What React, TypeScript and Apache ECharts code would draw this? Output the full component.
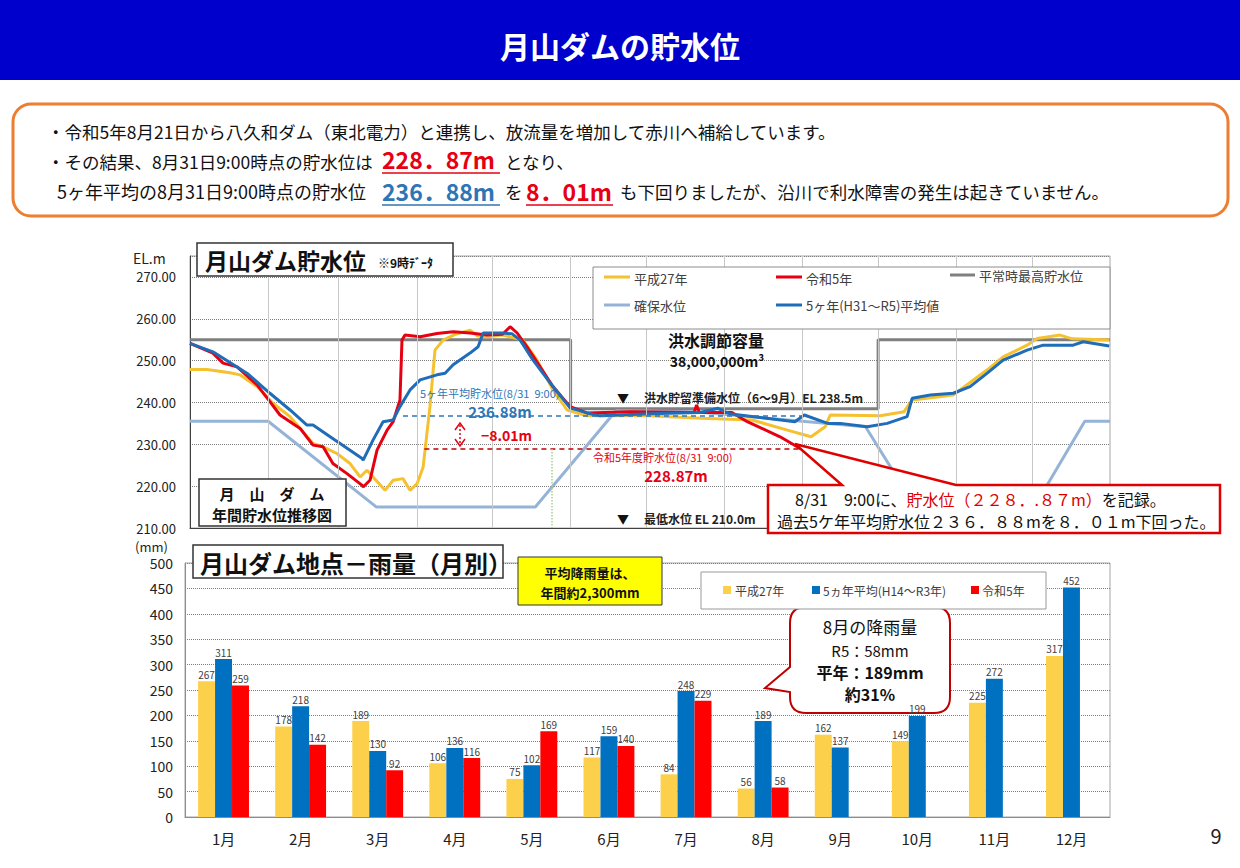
import React, { useEffect, useRef } from 'react';
import * as echarts from 'echarts';

const JP = '"Noto Sans CJK JP", "Noto Sans", sans-serif';

// ---- Reservoir level (day of year, EL m) ----
const h27Level: [number, number][] = [
  [0, 247.9], [6.7, 247.9], [15.9, 247.1], [19.8, 246.6], [26.6, 243.8], [32.9, 239.8], [39.7, 236.6],
  [48.8, 230.2], [52.8, 229.4], [58.3, 227.8], [63.5, 225.4], [67.5, 222.2], [70.2, 223.8], [72.6, 222.2],
  [77.4, 219.0], [80.6, 221.4], [84.5, 221.8], [87.3, 219.0], [90.1, 220.6], [92.5, 224.6], [95.2, 239.0],
  [97.2, 252.5], [100.4, 254.9], [105, 256.2], [111.1, 257.3], [114, 255.9], [117.9, 255.7], [124.2, 256.1],
  [132.1, 254.9], [137.7, 250.1], [144, 243.0], [149.6, 238.2], [157.5, 236.8], [180, 236.9], [202.7, 236.2],
  [223, 235.8], [237, 233.4], [246.4, 231.8], [252, 234.2], [254, 237.0], [273.8, 236.8], [283.3, 237.8],
  [286.5, 240.6], [302.8, 241.8], [316.3, 247.8], [322.6, 250.9], [332.1, 253.7], [336.1, 255.3],
  [345.2, 256.1], [350, 255.2], [364.7, 254.9],
];
const r5Level: [number, number][] = [
  [0, 254.1], [9.1, 251.8], [13.1, 249.4], [18.7, 248.5], [26.6, 244.2], [31.7, 240.2], [35.7, 237.0],
  [43.7, 233.8], [48.8, 229.8], [52.8, 229.4], [56.7, 225.4], [62.3, 223.0], [68.3, 220.2], [68.7, 219.8],
  [71.4, 221.4], [74.2, 228.6], [78.2, 233.4], [80.6, 235.4], [83.3, 240.6], [84.1, 254.9], [85.3, 256.1],
  [91.3, 255.7], [98.0, 256.5], [104.4, 256.9], [111.1, 256.6], [117.9, 256.1], [124, 256.3], [127, 258.1],
  [129.8, 256.6], [133.7, 253.3], [138.9, 248.5], [144, 243.8], [150.8, 239.0], [157.5, 237.5], [175, 237.8],
  [200, 237.6], [201, 239.4], [202, 237.6], [215, 237.6], [221.1, 235.4], [234.1, 231.8], [240.9, 229.4],
  [242.4, 228.87],
];
const avgLevel: [number, number][] = [
  [0, 254.1], [9.1, 252.1], [22.6, 247.0], [31.7, 242.2], [39.7, 238.2], [46.4, 234.6], [48.8, 234.6],
  [55.6, 231.8], [68.3, 226.6], [68.7, 226.2], [72.6, 231.0], [76.6, 235.4], [80.6, 235.8], [83.3, 239.0],
  [87.3, 243.0], [91.3, 245.4], [98.0, 246.6], [101.2, 247.0], [104.4, 249.0], [111.1, 251.8], [114.3, 253.3],
  [116.3, 256.6], [124.2, 256.6], [127.8, 256.4], [131, 254.9], [136.1, 250.1], [144, 243.8], [150.8, 238.7],
  [157.5, 237.5], [162.7, 236.8], [182.5, 237.3], [202.4, 237.6], [209.5, 238.6], [214, 237.3], [240, 235.4],
  [243.7, 237.0], [253, 235.0], [258, 235.0], [268.7, 234.2], [276.6, 235.0], [284.5, 236.6], [286.5, 241.0],
  [293.7, 241.8], [302.8, 242.2], [309.5, 243.8], [316.3, 247.0], [322.6, 250.1], [332.1, 252.5],
  [338.5, 253.7], [350.4, 253.7], [354.4, 254.5], [364.7, 253.5],
];
const securedLevel: [number, number][] = [
  [0, 235.5], [31, 235.5], [74, 215], [137, 215], [169, 238], [200, 237.8], [268, 234.2], [293, 210],
  [330, 210], [355, 235.5], [365, 235.5],
];
const normalMaxLevel: [number, number][] = [
  [0, 255], [151, 255], [151, 238.5], [273, 238.5], [273, 255], [365, 255],
];
const monthStartDays = [31, 59, 90, 120, 151, 181, 212, 243, 273, 304, 334];
const avgAug31 = 236.88;
const r5Aug31 = 228.87;
const aug31Day = 242.4;

// ---- Monthly rainfall (mm) ----
const months = ['1月', '2月', '3月', '4月', '5月', '6月', '7月', '8月', '9月', '10月', '11月', '12月'];
const rainH27 = [267, 178, 189, 106, 75, 117, 84, 56, 162, 149, 225, 317];
const rainAvg = [311, 218, 130, 136, 102, 159, 248, 189, 137, 199, 272, 452];
const rainR5 = [259, 142, 92, 116, 169, 140, 229, 58, null, null, null, null];

const C_YEL = '#F5C12E';
const C_RED = '#E60012';
const C_BLUE = '#1F6DB8';
const C_LBLUE = '#95B3D7';
const C_GRAY = '#7F7F7F';
const B_YEL = '#FCD04A';
const B_BLUE = '#0070C0';
const B_RED = '#FF0000';

echarts.graphic.registerShape(
  'calloutTop',
  echarts.graphic.extendPath('M768 485 L842 485 L795 444 L956 485 L1220 485 L1220 533 L768 533 Z', {})
);
echarts.graphic.registerShape(
  'calloutBubble',
  echarts.graphic.extendPath(
    'M806 607 L934 607 Q950 607 950 623 L950 697 Q950 713 934 713 L806 713 Q790 713 790 697 L790 692 L765 688 L790 667 L790 623 Q790 607 806 607 Z',
    {}
  )
);

function txt(x: number, y: number, text: string, o: any = {}) {
  return {
    type: 'text',
    x,
    y,
    style: {
      text,
      fill: o.fill || '#111',
      fontSize: o.size || 14,
      fontWeight: o.weight || 'normal',
      fontFamily: JP,
      textAlign: o.align || 'left',
      textVerticalAlign: 'middle',
      lineHeight: o.lh,
    },
  };
}
function line(x1: number, y1: number, x2: number, y2: number, stroke: string, w = 3, dash?: any) {
  return { type: 'line', shape: { x1, y1, x2, y2 }, style: { stroke, lineWidth: w, lineDash: dash } };
}
function rect(x: number, y: number, w: number, h: number, fill: string, stroke: string, lw = 1, r = 0) {
  return { type: 'rect', shape: { x, y, width: w, height: h, r }, style: { fill, stroke, lineWidth: lw } };
}

export default function App() {
  const ref = useRef<HTMLDivElement>(null);
  useEffect(() => {
    if (!ref.current) return;
    const chart = echarts.init(ref.current, undefined, { renderer: 'svg' });

    const graphics: any[] = [
      // banner
      rect(0, 0, 1240, 80, '#0000CC', '#0000CC', 0),
      txt(620, 45, '月山ダムの貯水位', { size: 30, weight: 'bold', fill: '#ffffff', align: 'center' }),
      // summary box
      rect(13, 104, 1215, 112, '#ffffff', '#ED7D31', 3, 18),
      txt(47, 131, '・令和5年8月21日から八久和ダム（東北電力）と連携し、放流量を増加して赤川へ補給しています。', { size: 17.5 }),
      txt(47, 161, '・その結果、8月31日9:00時点の貯水位は', { size: 17.5 }),
      txt(382, 159, '228．87m', { size: 23, weight: 'bold', fill: C_RED }),
      line(382, 173, 500, 173, C_RED, 1.5),
      txt(505, 161, 'となり、', { size: 17.5 }),
      txt(57, 191, '5ヶ年平均の8月31日9:00時点の貯水位', { size: 18 }),
      txt(382, 191, '236．88m', { size: 23, weight: 'bold', fill: '#2E75B6' }),
      line(382, 205, 500, 205, '#2E75B6', 1.5),
      txt(505, 191, 'を', { size: 17.5 }),
      txt(526, 191, '8．01m', { size: 23, weight: 'bold', fill: C_RED }),
      line(526, 205, 613, 205, C_RED, 1.5),
      txt(620, 191, 'も下回りましたが、沿川で利水障害の発生は起きていません。', { size: 17.5 }),

      // top chart texts
      txt(133, 258, 'EL.m', { size: 14, fill: '#222' }),
      rect(197, 243, 256, 33, '#ffffff', '#333333', 1.5),
      txt(205, 260, '月山ダム貯水位', { size: 23, weight: 'bold' }),
      txt(378, 262, '※9時ﾃﾞｰﾀ', { size: 12, weight: 'bold' }),
      rect(593, 267, 517, 62, '#ffffff', '#8c8c8c', 1),
      line(604, 277, 630, 277, C_YEL),
      txt(634, 278, '平成27年', { size: 13, fill: '#404040' }),
      line(776, 277, 802, 277, C_RED),
      txt(806, 278, '令和5年', { size: 13, fill: '#404040' }),
      line(950, 275, 975, 275, C_GRAY),
      txt(979, 275, '平常時最高貯水位', { size: 13, fill: '#404040' }),
      line(604, 305, 630, 305, C_LBLUE),
      txt(634, 305, '確保水位', { size: 13, fill: '#404040' }),
      line(776, 305, 802, 305, C_BLUE),
      txt(806, 305, '5ヶ年(H31～R5)平均値', { size: 13, fill: '#404040' }),

      txt(716, 340, '洪水調節容量', { size: 16, weight: 'bold', align: 'center', lh: 18 }),
      txt(717, 361, '38,000,000m³', { size: 14, weight: 'bold', align: 'center', lh: 16 }),
      txt(623, 397, '▼', { size: 12, align: 'center' }),
      txt(644, 397, '洪水貯留準備水位（6～9月）EL 238.5m', { size: 12, weight: 'bold', fill: '#222' }),
      txt(623, 518, '▼', { size: 12, align: 'center' }),
      txt(644, 518, '最低水位 EL 210.0m', { size: 12, weight: 'bold', fill: '#222' }),

      txt(420, 393, '5ヶ年平均貯水位(8/31  9:00)', { size: 11, fill: '#2E75B6' }),
      txt(500, 411, '236.88m', { size: 15, weight: 'bold', fill: '#2E75B6', align: 'center' }),
      txt(481, 435, '−8.01m', { size: 14, weight: 'bold', fill: C_RED }),
      txt(593, 457, '令和5年度貯水位(8/31  9:00)', { size: 11, fill: C_RED }),
      txt(676, 475, '228.87m', { size: 15, weight: 'bold', fill: C_RED, align: 'center' }),
      line(460, 425, 460, 444, C_RED, 1.5, [2, 2]),
      { type: 'polyline', shape: { points: [[455, 430], [460, 423], [465, 430]] }, style: { stroke: C_RED, lineWidth: 1.5, fill: 'none' } },
      { type: 'polyline', shape: { points: [[455, 439], [460, 446], [465, 439]] }, style: { stroke: C_RED, lineWidth: 1.5, fill: 'none' } },

      rect(199, 479, 147, 47, '#ffffff', '#333333', 1.5),
      txt(272, 493, '月　山　ダ　ム', { size: 15, weight: 'bold', align: 'center' }),
      txt(272, 514, '年間貯水位推移図', { size: 15, weight: 'bold', align: 'center' }),

      { type: 'calloutTop', x: 0, y: 0, style: { fill: '#ffffff', stroke: '#E00000', lineWidth: 2.5 } },
      {
        type: 'text',
        x: 795,
        y: 499,
        style: {
          text: '{a|8/31　9:00に、}{r|貯水位（２２８．.８７m）}{a|を記録。}',
          fontFamily: JP,
          textVerticalAlign: 'middle',
          rich: {
            a: { fontSize: 16, fill: '#111', fontFamily: JP, lineHeight: 18 },
            r: { fontSize: 16, fill: '#E00000', fontFamily: JP, lineHeight: 18 },
          },
        },
      },
      txt(777, 521, '過去5ケ年平均貯水位２３６．８８mを８．０１m下回った。', { size: 16, lh: 18 }),

      // bottom chart texts
      txt(135, 546, '(mm)', { size: 13, fill: '#222' }),
      rect(193, 545, 310, 33, '#ffffff', '#333333', 1.5),
      txt(200, 562, '月山ダム地点－雨量（月別）', { size: 24, weight: 'bold' }),
      rect(518, 557, 144, 48, '#FFFF00', '#333333', 1),
      txt(590, 572, '平均降雨量は、', { size: 13, weight: 'bold', align: 'center' }),
      txt(590, 592, '年間約2,300mm', { size: 13, weight: 'bold', align: 'center' }),
      rect(701, 572, 345, 37, '#ffffff', '#999999', 1),
      rect(723, 586, 8, 8, B_YEL, B_YEL, 0),
      txt(735, 590, '平成27年', { size: 12, fill: '#404040' }),
      rect(812, 586, 8, 8, B_BLUE, B_BLUE, 0),
      txt(823, 590, '5ヵ年平均(H14～R3年)', { size: 12, fill: '#404040' }),
      rect(971, 586, 8, 8, B_RED, B_RED, 0),
      txt(982, 590, '令和5年', { size: 12, fill: '#404040' }),
      txt(870, 626, '8月の降雨量', { size: 17, align: 'center' }),
      txt(870, 650, 'R5：58mm', { size: 15, align: 'center' }),
      txt(870, 672, '平年：189mm', { size: 16, weight: 'bold', align: 'center' }),
      txt(870, 694, '約31%', { size: 16, weight: 'bold', align: 'center' }),

      txt(1216, 835, '9', { size: 20, fill: '#222', align: 'center' }),
    ];
    graphics.forEach((g) => {
      g.z = 100;
    });
    // bubble sits above grid lines but below bar labels
    graphics.push({ type: 'calloutBubble', x: 0, y: 0, z: 1, style: { fill: '#ffffff', stroke: '#C00000', lineWidth: 2 } });

    const lineSeries = (name: string, data: [number, number][], color: string, extra: any = {}) => ({
      name,
      type: 'line',
      xAxisIndex: 0,
      yAxisIndex: 0,
      data,
      showSymbol: false,
      symbol: 'none',
      lineStyle: { color, width: 3 },
      itemStyle: { color },
      silent: true,
      ...extra,
    });

    chart.setOption({
      animation: false,
      textStyle: { fontFamily: JP },
      grid: [
        { left: 190, top: 256, width: 920, height: 272, show: true, borderColor: '#a6a6a6', borderWidth: 1 },
        { left: 185, top: 563, width: 925, height: 254, show: true, borderColor: '#a6a6a6', borderWidth: 1 },
      ],
      xAxis: [
        {
          type: 'value',
          gridIndex: 0,
          min: 0,
          max: 365,
          axisLine: { show: true, onZero: false, lineStyle: { color: '#404040' } },
          axisTick: { show: false },
          axisLabel: { show: false },
          splitLine: { show: false },
        },
        {
          type: 'category',
          gridIndex: 1,
          data: months,
          axisLine: { lineStyle: { color: '#8c8c8c' } },
          axisTick: { inside: true, length: 5, lineStyle: { color: '#666' } },
          axisLabel: { fontSize: 15, color: '#222', margin: 14, fontFamily: JP },
        },
      ],
      yAxis: [
        {
          type: 'value',
          gridIndex: 0,
          min: 210,
          max: 275,
          interval: 10,
          axisLine: { show: true, lineStyle: { color: '#404040' } },
          axisTick: { show: false },
          axisLabel: {
            formatter: (v: number) => (v > 270 ? '' : v.toFixed(2)),
            fontSize: 13,
            color: '#222',
            margin: 14,
          },
          splitLine: { lineStyle: { type: 'dotted', color: '#7f7f7f' } },
        },
        {
          type: 'value',
          gridIndex: 1,
          min: 0,
          max: 500,
          interval: 50,
          axisLine: { show: true, lineStyle: { color: '#8c8c8c' } },
          axisTick: { show: false },
          axisLabel: { fontSize: 14, color: '#222', margin: 12 },
          splitLine: { lineStyle: { type: 'dotted', color: '#7f7f7f' } },
        },
      ],
      series: [
        {
          type: 'line',
          xAxisIndex: 0,
          yAxisIndex: 0,
          data: [],
          z: 1,
          silent: true,
          markLine: {
            silent: true,
            symbol: ['none', 'none'],
            label: { show: false },
            lineStyle: { color: '#c8c8c8', type: 'solid', width: 1 },
            data: monthStartDays.map((d) => ({ xAxis: d })),
          },
        },
        lineSeries('平常時最高貯水位', normalMaxLevel, C_GRAY),
        lineSeries('確保水位', securedLevel, C_LBLUE),
        lineSeries('平成27年', h27Level, C_YEL),
        lineSeries('令和5年', r5Level, C_RED, {
          markLine: {
            silent: true,
            symbol: ['none', 'none'],
            label: { show: false },
            data: [
              [
                { coord: [84.5, avgAug31], lineStyle: { color: '#2E75B6', type: [5, 4], width: 1.5 } },
                { coord: [aug31Day, avgAug31] },
              ],
              [
                { coord: [93, r5Aug31], lineStyle: { color: '#C00000', type: [5, 4], width: 1.5 } },
                { coord: [aug31Day, r5Aug31] },
              ],
              [
                { coord: [143.7, r5Aug31], lineStyle: { color: '#A9D18E', type: 'dotted', width: 1.5 } },
                { coord: [143.7, 210] },
              ],
            ],
          },
        }),
        lineSeries('5ヶ年(H31～R5)平均値', avgLevel, C_BLUE),
        ...[
          ['平成27年', rainH27, B_YEL],
          ['5ヵ年平均(H14～R3年)', rainAvg, B_BLUE],
          ['令和5年', rainR5, B_RED],
        ].map(([name, data, color]: any) => ({
          name,
          type: 'bar',
          xAxisIndex: 1,
          yAxisIndex: 1,
          data,
          barGap: '0%',
          barCategoryGap: '34%',
          itemStyle: { color },
          silent: true,
          label: { show: true, position: 'top', fontSize: 10, color: '#404040', distance: 2 },
        })),
      ],
      graphic: graphics,
    });
    return () => chart.dispose();
  }, []);
  return (
    <div
      ref={ref}
      style={{ position: 'fixed', left: 0, top: 0, width: 1240, height: 868, background: '#ffffff' }}
    />
  );
}
